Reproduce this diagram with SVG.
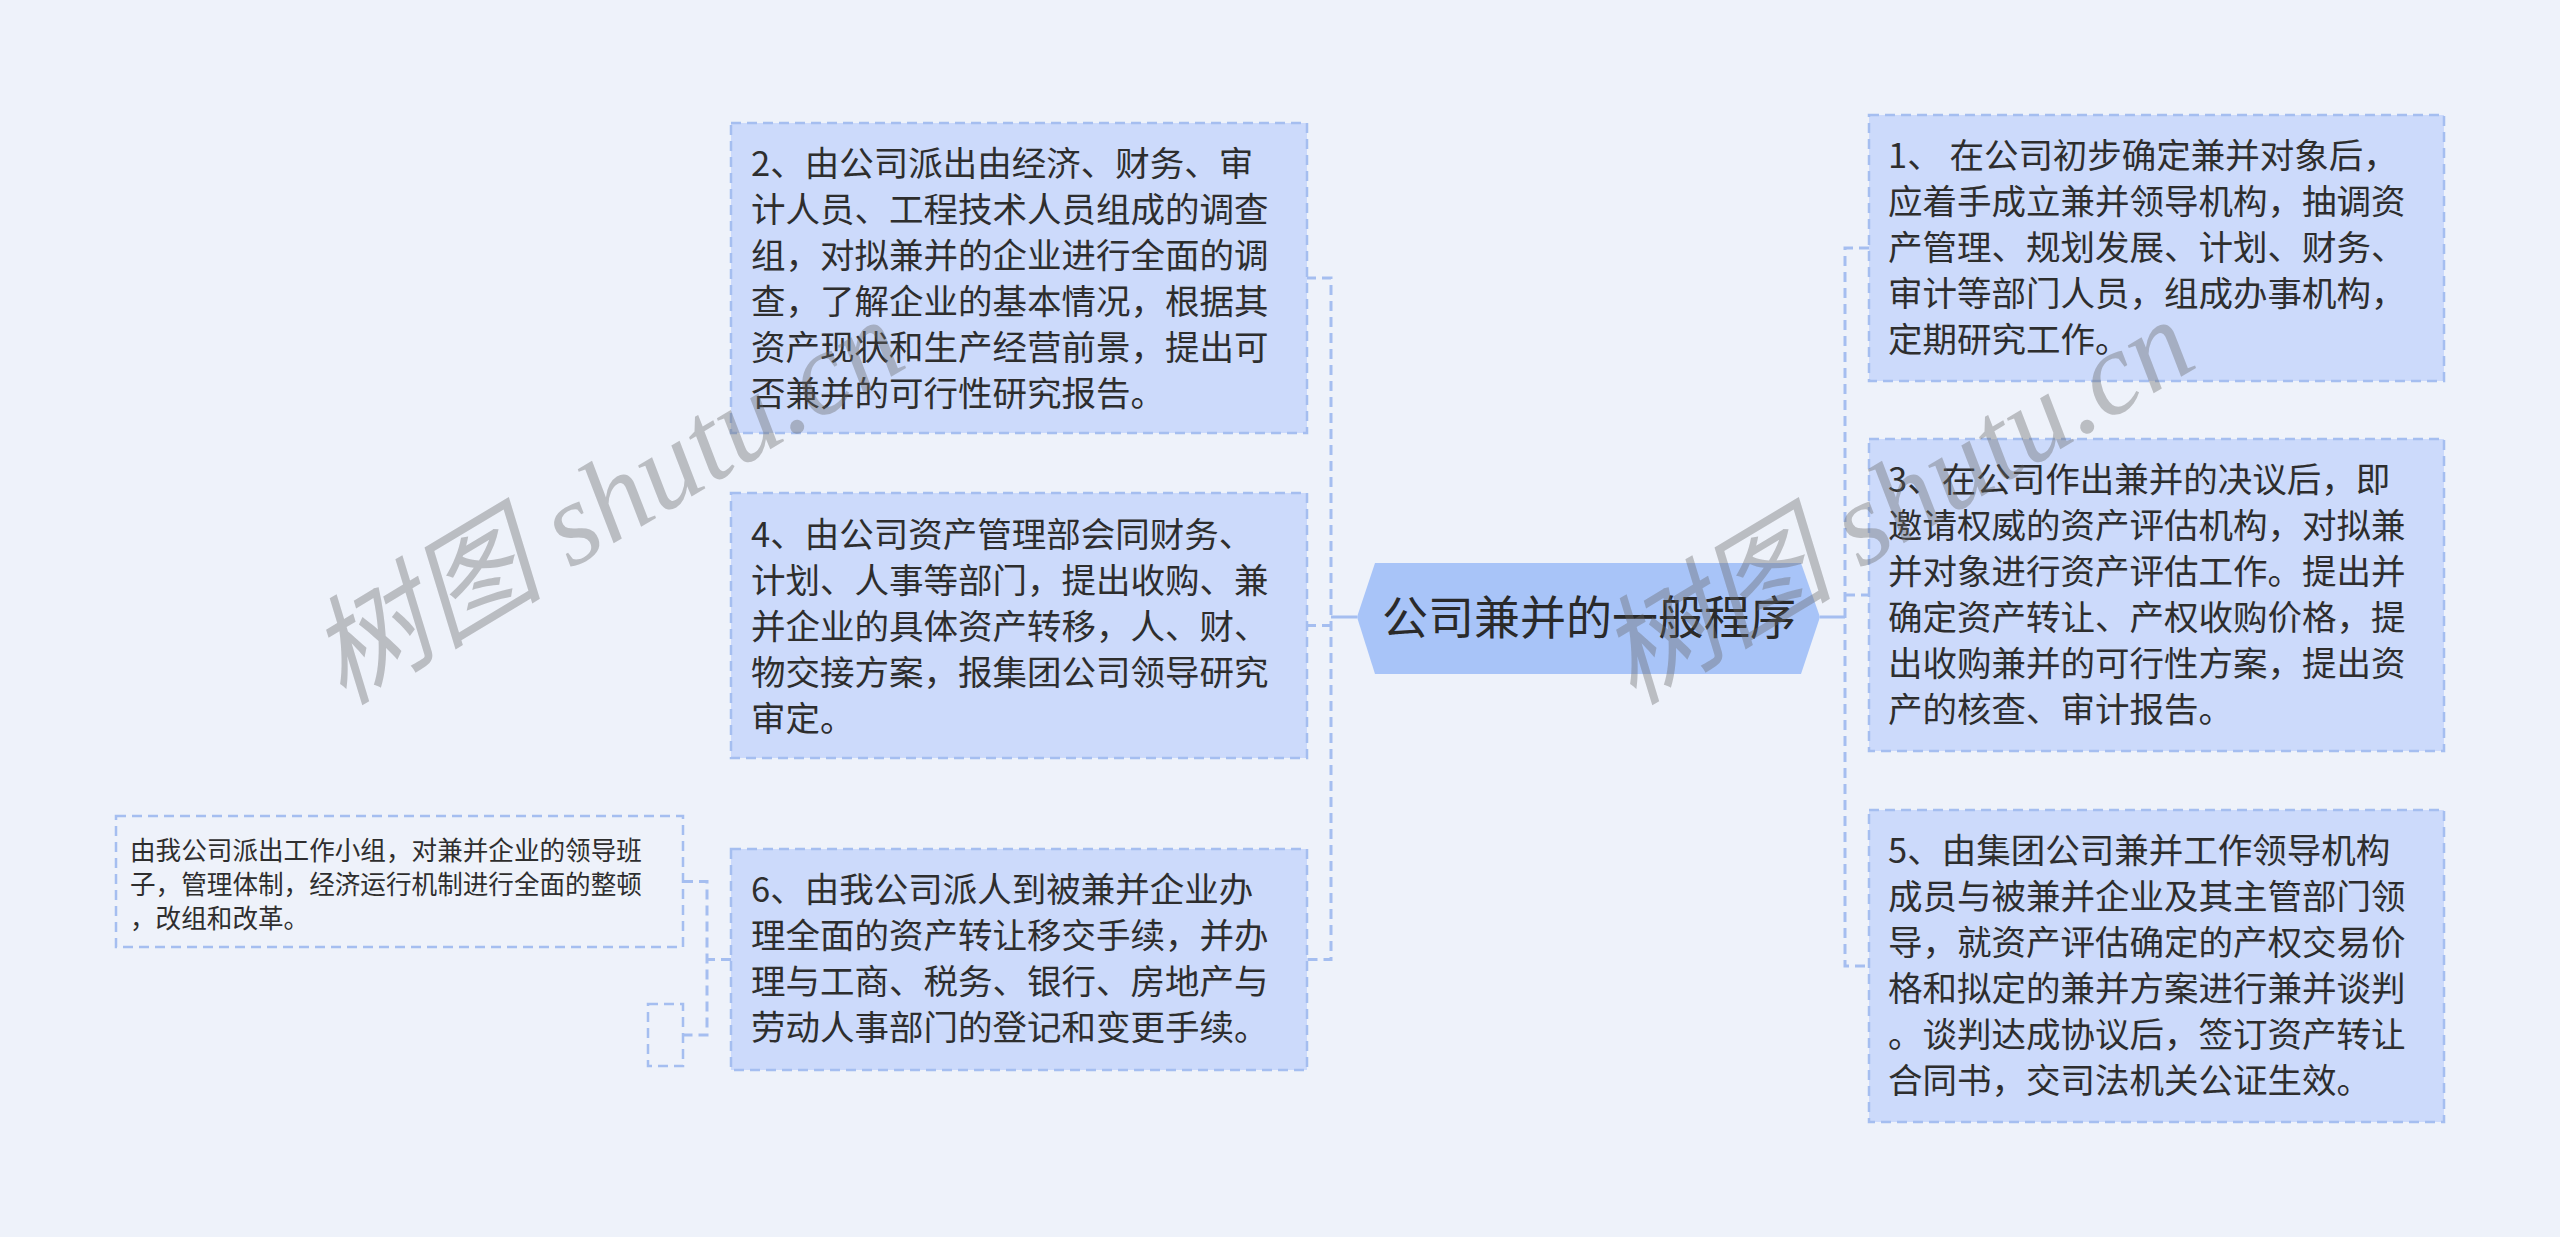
<svg xmlns="http://www.w3.org/2000/svg" width="2560" height="1237" viewBox="0 0 2560 1237">
<style>
.bg{fill:#eef2fa}
.box{fill:#ccdafb;stroke:#a5bef0;stroke-width:2.5;stroke-dasharray:10 6}
.sub{fill:none;stroke:#a5bef0;stroke-width:2.5;stroke-dasharray:10 6}
.t{font-family:"Noto Sans CJK SC","Noto Sans",sans-serif;font-size:34.5px;fill:#2e2e2e}
.ts{font-family:"Noto Sans CJK SC","Noto Sans",sans-serif;font-size:25.6px;fill:#2e2e2e}
.tc{font-family:"Noto Sans CJK SC","Noto Sans",sans-serif;font-size:46px;fill:#2a2a2a;text-anchor:middle}
.dash{fill:none;stroke:#a5bef0;stroke-width:3;stroke-dasharray:10 6}
.solid{fill:none;stroke:#a5bef0;stroke-width:3}
.wm{font-family:"Liberation Serif","Noto Sans CJK SC",serif;font-style:italic;font-size:118px;fill:#666;fill-opacity:0.38}
</style>
<rect class="bg" x="0" y="0" width="2560" height="1237"/>
<g id="connectors">
<path class="solid" d="M1357,617 H1331"/>
<path class="dash" d="M1306,278 H1331 V959.5 H1306"/>
<path class="dash" d="M1306,625.5 H1331"/>
<path class="solid" d="M1820,617 H1845"/>
<path class="dash" d="M1869,248 H1845 V966 H1869"/>
<path class="dash" d="M1845,595 H1869"/>
<path class="dash" d="M731,959.5 H707"/>
<path class="dash" d="M683,881.5 H707 V1035 H683"/>
</g>
<g id="center">
<polygon points="1357,617 1375,563 1801,563 1820,617 1801,674 1375,674" fill="#a8c4f8"/>
<text class="tc" x="1589" y="634">公司兼并的一般程序</text>
</g>
<g id="node2">
<rect class="box" x="731" y="123" width="576" height="310"/>
<text class="t" x="751" y="176">2、由公司派出由经济、财务、审</text>
<text class="t" x="751" y="222">计人员、工程技术人员组成的调查</text>
<text class="t" x="751" y="268">组，对拟兼并的企业进行全面的调</text>
<text class="t" x="751" y="314">查，了解企业的基本情况，根据其</text>
<text class="t" x="751" y="360">资产现状和生产经营前景，提出可</text>
<text class="t" x="751" y="406">否兼并的可行性研究报告。</text>
</g>
<g id="node4">
<rect class="box" x="731" y="493" width="576" height="265"/>
<text class="t" x="751" y="547">4、由公司资产管理部会同财务、</text>
<text class="t" x="751" y="593">计划、人事等部门，提出收购、兼</text>
<text class="t" x="751" y="639">并企业的具体资产转移，人、财、</text>
<text class="t" x="751" y="685">物交接方案，报集团公司领导研究</text>
<text class="t" x="751" y="731">审定。</text>
</g>
<g id="node6">
<rect class="box" x="731" y="849" width="576" height="221"/>
<text class="t" x="751" y="902">6、由我公司派人到被兼并企业办</text>
<text class="t" x="751" y="948">理全面的资产转让移交手续，并办</text>
<text class="t" x="751" y="994">理与工商、税务、银行、房地产与</text>
<text class="t" x="751" y="1040">劳动人事部门的登记和变更手续。</text>
</g>
<g id="node6a">
<rect class="sub" x="116" y="816" width="567" height="131"/>
<text class="ts" x="130" y="860">由我公司派出工作小组，对兼并企业的领导班</text>
<text class="ts" x="130" y="894">子，管理体制，经济运行机制进行全面的整顿</text>
<text class="ts" x="130" y="928">，改组和改革。</text>
</g>
<g id="node6b">
<rect class="sub" x="648" y="1004" width="35" height="62"/>
</g>
<g id="node1">
<rect class="box" x="1869" y="115" width="575" height="266"/>
<text class="t" x="1888" y="168">1、 在公司初步确定兼并对象后，</text>
<text class="t" x="1888" y="214">应着手成立兼并领导机构，抽调资</text>
<text class="t" x="1888" y="260">产管理、规划发展、计划、财务、</text>
<text class="t" x="1888" y="306">审计等部门人员，组成办事机构，</text>
<text class="t" x="1888" y="352">定期研究工作。</text>
</g>
<g id="node3">
<rect class="box" x="1869" y="439" width="575" height="312"/>
<text class="t" x="1888" y="492">3、在公司作出兼并的决议后，即</text>
<text class="t" x="1888" y="538">邀请权威的资产评估机构，对拟兼</text>
<text class="t" x="1888" y="584">并对象进行资产评估工作。提出并</text>
<text class="t" x="1888" y="630">确定资产转让、产权收购价格，提</text>
<text class="t" x="1888" y="676">出收购兼并的可行性方案，提出资</text>
<text class="t" x="1888" y="722">产的核查、审计报告。</text>
</g>
<g id="node5">
<rect class="box" x="1869" y="810" width="575" height="312"/>
<text class="t" x="1888" y="863">5、由集团公司兼并工作领导机构</text>
<text class="t" x="1888" y="909">成员与被兼并企业及其主管部门领</text>
<text class="t" x="1888" y="955">导，就资产评估确定的产权交易价</text>
<text class="t" x="1888" y="1001">格和拟定的兼并方案进行兼并谈判</text>
<text class="t" x="1888" y="1047">。谈判达成协议后，签订资产转让</text>
<text class="t" x="1888" y="1093">合同书，交司法机关公证生效。</text>
</g>
<g id="watermarks">
<text class="wm" transform="translate(343,706) rotate(-31)">树图 shutu.cn</text>
<text class="wm" transform="translate(1633,706) rotate(-31)">树图 shutu.cn</text>
</g>
</svg>
